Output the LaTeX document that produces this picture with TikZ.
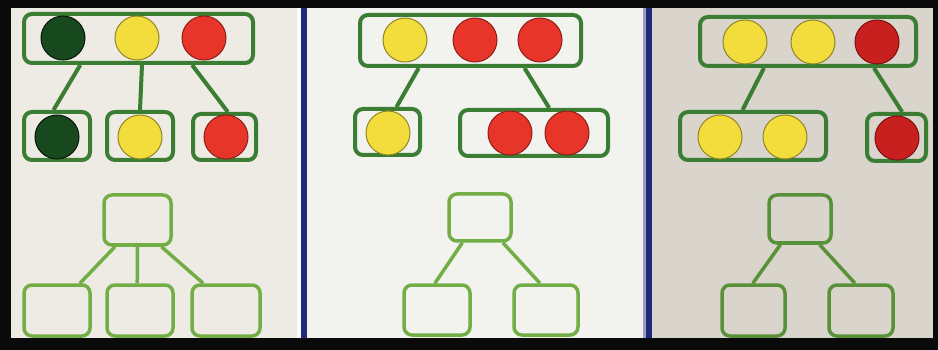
\documentclass[tikz,border=0pt]{standalone}
\usepackage{tikz}
\usetikzlibrary{calc}
\definecolor{sortframe}{RGB}{10,10,10}
\definecolor{sortpaperA}{RGB}{238,235,229}
\definecolor{sortpaperB}{RGB}{242,242,239}
\definecolor{sortpaperC}{RGB}{217,212,204}
\definecolor{sortdivide}{RGB}{31,42,120}
\definecolor{sortgreen}{RGB}{58,125,51}
\definecolor{sortslot}{RGB}{114,174,69}
\definecolor{sortslotdark}{RGB}{88,145,56}
\definecolor{dotgreen}{RGB}{23,72,30}
\definecolor{dotyellow}{RGB}{242,221,60}
\definecolor{dotred}{RGB}{232,53,42}
\definecolor{dotredC}{RGB}{200,32,31}

\begin{document}
\begin{tikzpicture}[
        x=1pt, y=-1pt,
        box/.style={
            draw=sortgreen,
            line width=4pt,
            rounded corners=8pt,
            inner sep=0pt
        },
        slot/.style={
            box,
            draw=sortslot,
            line width=3.5pt
        },
        dot/.style={
            circle,
            minimum size=44pt,
            inner sep=0pt,
            line width=1pt
        },
        gdot/.style={dot, fill=dotgreen, draw=black!70!dotgreen},
        ydot/.style={dot, fill=dotyellow, draw=black!40!dotyellow},
        rdot/.style={dot, fill=dotred, draw=black!40!dotred},
        link/.style={
            draw=sortgreen,
            line width=4pt
        },
        slotlink/.style={
            draw=sortslot,
            line width=3.5pt
        }
    ]

    % frame and the three panels
    \fill[sortframe] (0,0) rectangle (938,350);
    \fill[sortpaperA] (11,8) rectangle (297,338);
    \fill[white!92!sortpaperA] (297,8) rectangle (301,338);
    \fill[sortdivide] (301,8) rectangle (307,338);
    \fill[sortpaperB] (307,8) rectangle (643,338);
    \fill[sortdivide!45!white] (643,8) rectangle (646,338);
    \fill[sortdivide] (646,8) rectangle (652,338);
    \fill[sortpaperC] (652,8) rectangle (933,338);

    % panel 1
    \node[box, minimum width=229pt, minimum height=49pt] (onetop) at (138.5,38.5) {};
    \node[gdot] (onea) at (63,38) {};
    \node[ydot] (oneb) at (137,38) {};
    \node[rdot] (onec) at (204,38) {};

    \node[box, minimum width=66pt, minimum height=48pt] (oneleft) at (57,136) {};
    \node[box, minimum width=66pt, minimum height=48pt] (onemid) at (140,136) {};
    \node[box, minimum width=63pt, minimum height=46pt] (oneright) at (224.5,137) {};
    \node[gdot] (oned) at (57,137) {};
    \node[ydot] (onee) at (140,137) {};
    \node[rdot] (onef) at (226,137) {};

    \draw[link] ($(onetop.south west)!.25!(onetop.south east)$) -- ($(oneleft.north west)!.45!(oneleft.north east)$);
    \draw[link] ($(onetop.south west)!.515!(onetop.south east)$) -- (onemid.north);
    \draw[link] ($(onetop.south west)!.73!(onetop.south east)$) -- ($(oneright.north west)!.55!(oneright.north east)$);

    \node[slot, minimum width=67pt, minimum height=50pt] (oneslottop) at (137.5,220) {};
    \node[slot, minimum width=66pt, minimum height=51pt] (oneslota) at (57,310.5) {};
    \node[slot, minimum width=66pt, minimum height=51pt] (oneslotb) at (140,310.5) {};
    \node[slot, minimum width=68pt, minimum height=51pt] (oneslotc) at (226,310.5) {};

    \draw[slotlink] ($(oneslottop.south west)!.18!(oneslottop.south east)$) -- ($(oneslota.north west)!.83!(oneslota.north east)$);
    \draw[slotlink] (oneslottop.south) -- ($(oneslotb.north west)!.46!(oneslotb.north east)$);
    \draw[slotlink] ($(oneslottop.south west)!.84!(oneslottop.south east)$) -- ($(oneslotc.north west)!.18!(oneslotc.north east)$);

    % panel 2
    \node[box, minimum width=221pt, minimum height=51pt] (twotop) at (470.5,40.5) {};
    \node[ydot] (twoa) at (405,40) {};
    \node[rdot] (twob) at (475,40) {};
    \node[rdot] (twoc) at (540,40) {};

    \node[box, minimum width=65pt, minimum height=46pt] (twoleft) at (387.5,132) {};
    \node[box, minimum width=148pt, minimum height=46pt] (tworight) at (534,133) {};
    \node[ydot] (twod) at (388,133) {};
    \node[rdot] (twoe) at (510,133) {};
    \node[rdot] (twof) at (567,133) {};

    \draw[link] ($(twotop.south west)!.27!(twotop.south east)$) -- ($(twoleft.north west)!.63!(twoleft.north east)$);
    \draw[link] ($(twotop.south west)!.74!(twotop.south east)$) -- ($(tworight.north west)!.6!(tworight.north east)$);

    \node[slot, minimum width=62pt, minimum height=47pt] (twoslottop) at (480,217.5) {};
    \node[slot, minimum width=66pt, minimum height=50pt] (twoslota) at (437,310) {};
    \node[slot, minimum width=64pt, minimum height=50pt] (twoslotb) at (546,310) {};

    \draw[slotlink] ($(twoslottop.south west)!.23!(twoslottop.south east)$) -- ($(twoslota.north west)!.47!(twoslota.north east)$);
    \draw[slotlink] ($(twoslottop.south west)!.85!(twoslottop.south east)$) -- ($(twoslotb.north west)!.41!(twoslotb.north east)$);

    % panel 3
    \node[box, minimum width=216pt, minimum height=49pt] (threetop) at (808,41.5) {};
    \node[ydot] (threea) at (745,42) {};
    \node[ydot] (threeb) at (813,42) {};
    \node[rdot, fill=dotredC, draw=black!40!dotredC] (threec) at (877,42) {};

    \node[box, minimum width=146pt, minimum height=48pt] (threeleft) at (753,136) {};
    \node[box, minimum width=59pt, minimum height=47pt] (threeright) at (896.5,137.5) {};
    \node[ydot] (threed) at (720,137) {};
    \node[ydot] (threee) at (785,137) {};
    \node[rdot, fill=dotredC, draw=black!40!dotredC] (threef) at (897,138) {};

    \draw[link] ($(threetop.south west)!.3!(threetop.south east)$) -- ($(threeleft.north west)!.43!(threeleft.north east)$);
    \draw[link] ($(threetop.south west)!.8!(threetop.south east)$) -- ($(threeright.north west)!.59!(threeright.north east)$);

    \node[slot, draw=sortslotdark, minimum width=62pt, minimum height=48pt] (threeslottop) at (800,219) {};
    \node[slot, draw=sortslotdark, minimum width=63pt, minimum height=51pt] (threeslota) at (753.5,310.5) {};
    \node[slot, draw=sortslotdark, minimum width=64pt, minimum height=51pt] (threeslotb) at (861,310.5) {};

    \draw[slotlink, draw=sortslotdark] ($(threeslottop.south west)!.2!(threeslottop.south east)$) -- ($(threeslota.north west)!.49!(threeslota.north east)$);
    \draw[slotlink, draw=sortslotdark] ($(threeslottop.south west)!.8!(threeslottop.south east)$) -- ($(threeslotb.north west)!.41!(threeslotb.north east)$);

\end{tikzpicture}
\end{document}
